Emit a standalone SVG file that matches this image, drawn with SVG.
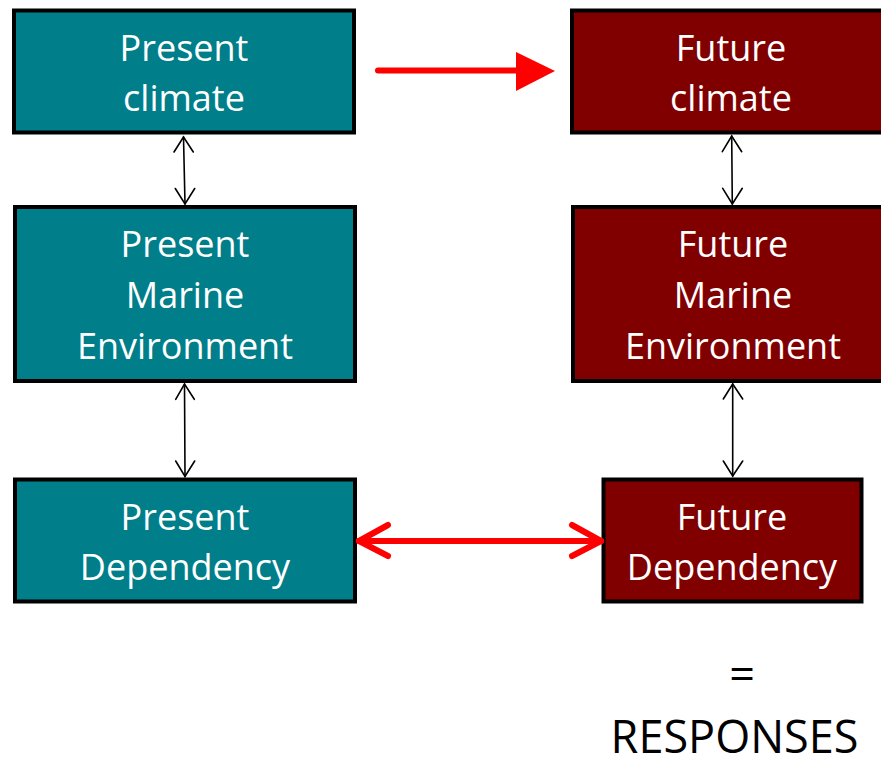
<svg xmlns="http://www.w3.org/2000/svg" width="881" height="758" viewBox="0 0 881 758">
  <style>
    .box { stroke: #000; stroke-width: 4; }
    .present { fill: #007E8A; }
    .future { fill: #800000; }
    .lbl { font-family: "Open Sans", "Liberation Sans", sans-serif; font-size: 36px; fill: #fff; text-anchor: middle; }
    .note { font-family: "Open Sans", "Liberation Sans", sans-serif; font-size: 45px; fill: #000; text-anchor: middle; }
    .thin { stroke: #000; stroke-width: 1.6; fill: none; stroke-linecap: round; stroke-linejoin: miter; }
    .red { stroke: #FF0000; fill: none; stroke-width: 6; stroke-linecap: round; stroke-linejoin: round; }
  </style>
  <rect width="881" height="758" fill="#fff"/>

  <g id="present-climate">
    <rect class="box present" x="14" y="10.5" width="340" height="122"/>
    <text class="lbl" x="184" y="61">Present</text>
    <text class="lbl" x="184" y="111">climate</text>
  </g>
  <g id="future-climate">
    <rect class="box future" x="572" y="10.5" width="320" height="122"/>
    <text class="lbl" x="731" y="61">Future</text>
    <text class="lbl" x="731" y="111">climate</text>
  </g>
  <g id="present-marine">
    <rect class="box present" x="15" y="207" width="340" height="174"/>
    <text class="lbl" x="185" y="257">Present</text>
    <text class="lbl" x="185" y="308">Marine</text>
    <text class="lbl" x="185" y="359">Environment</text>
  </g>
  <g id="future-marine">
    <rect class="box future" x="573" y="207" width="320" height="174"/>
    <text class="lbl" x="733" y="257">Future</text>
    <text class="lbl" x="733" y="308">Marine</text>
    <text class="lbl" x="733" y="359">Environment</text>
  </g>
  <g id="present-dependency">
    <rect class="box present" x="15" y="479.5" width="340" height="122"/>
    <text class="lbl" x="185" y="529.5">Present</text>
    <text class="lbl" x="185" y="579.5">Dependency</text>
  </g>
  <g id="future-dependency">
    <rect class="box future" x="603.5" y="479.5" width="258" height="122"/>
    <text class="lbl" x="732" y="529.5">Future</text>
    <text class="lbl" x="732" y="579.5">Dependency</text>
  </g>

  <g id="connectors">
    <!-- present climate to future climate -->
    <line class="red" x1="378" y1="70.5" x2="518" y2="70.5" stroke-linecap="butt"/>
    <polygon points="516,52 555,71 516,91" fill="#FF0000"/>
    <!-- present dependency to future dependency -->
    <line class="red" x1="359" y1="541" x2="601" y2="541"/>
    <polyline class="red" points="388,525 359,541 388,556"/>
    <polyline class="red" points="572,525 601,541 572,556"/>
    <!-- vertical links -->
    <line class="thin" x1="183.5" y1="137" x2="185" y2="204"/>
    <polyline class="thin" points="174,152 183.5,137 193.3,152"/>
    <polyline class="thin" points="175.3,188.5 185,204 194.7,188.5"/>
    <line class="thin" x1="184.5" y1="384" x2="185" y2="476.5"/>
    <polyline class="thin" points="175.7,399.3 184.5,384 194.3,399.3"/>
    <polyline class="thin" points="175.7,461 185,476.5 194.7,461"/>
    <line class="thin" x1="731.7" y1="136" x2="732.3" y2="204"/>
    <polyline class="thin" points="722.3,151.7 731.7,136 741.7,151.7"/>
    <polyline class="thin" points="722.7,188.3 732.3,204 742.3,188.3"/>
    <line class="thin" x1="732.7" y1="384" x2="732.7" y2="476"/>
    <polyline class="thin" points="723.3,399 732.7,384 742.7,399"/>
    <polyline class="thin" points="723.3,461 732.7,476 742.7,461"/>
  </g>

  <g id="result">
    <text class="note" x="742" y="690">=</text>
    <text class="note" x="734.5" y="753">RESPONSES</text>
  </g>
</svg>
